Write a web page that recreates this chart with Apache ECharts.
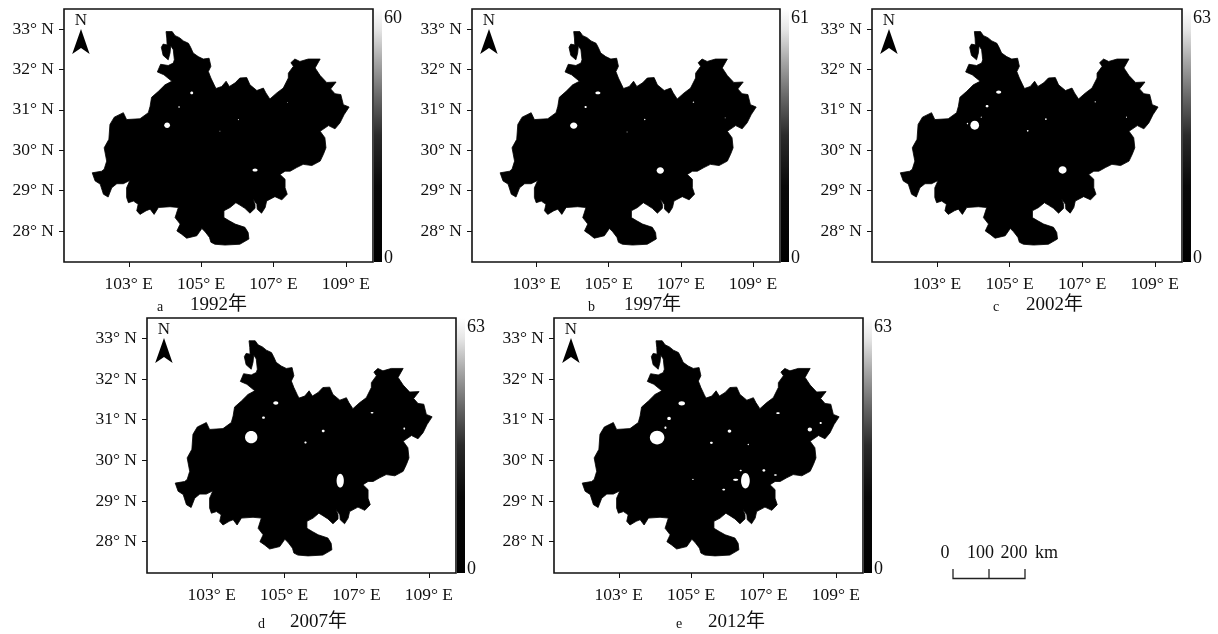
<!DOCTYPE html>
<html><head><meta charset="utf-8">
<style>html,body{margin:0;padding:0;background:#fff}#c{width:1218px;height:634px}</style>
<script src="https://cdn.jsdelivr.net/npm/echarts@6/dist/echarts.min.js"></script>
</head><body><div id="c"></div>
<script>
const lonTicks=[103,105,107,109];
const latTicks=[28,29,30,31,32,33];
const years=['1992','1997','2002','2007','2012'];
const letters=['a','b','c','d','e'];
const maxValues=[60,61,63,63,63];
const outlineLon=[104.03,104.20,104.28,104.40,104.51,104.65,104.71,104.78,104.92,105.06,105.22,105.27,105.20,105.27,105.36,105.41,105.57,105.69,105.78,105.94,106.07,106.26,106.35,106.54,106.72,106.79,106.90,107.09,107.27,107.41,107.41,107.55,107.48,107.59,107.73,107.96,108.29,108.15,108.29,108.47,108.73,108.58,108.70,108.86,108.93,109.09,108.95,108.84,108.70,108.52,108.29,108.42,108.45,108.38,108.29,108.06,107.82,107.64,107.46,107.32,107.18,107.32,107.32,107.38,107.23,107.04,106.81,106.77,106.67,106.55,106.54,106.43,106.49,106.49,106.35,106.21,106.07,105.96,105.80,105.63,105.63,105.78,105.94,106.21,106.30,106.32,106.07,105.66,105.38,105.27,105.23,105.11,105.02,104.88,104.60,104.46,104.33,104.42,104.28,104.37,104.14,103.82,103.70,103.59,103.48,103.31,103.22,103.26,103.13,102.99,102.94,102.94,103.03,102.85,102.67,102.53,102.43,102.30,102.21,102.07,101.99,102.25,102.32,102.39,102.32,102.45,102.48,102.60,102.85,102.94,103.31,103.54,103.59,103.63,103.82,104.00,104.19,103.97,103.79,103.88,104.09,104.23,104.26,104.23,104.16,104.14,104.09,103.95,103.90,103.95,104.06,104.05];
const outlineLat=[32.94,32.94,32.84,32.79,32.71,32.65,32.55,32.41,32.32,32.26,32.28,32.08,31.95,31.79,31.62,31.53,31.58,31.71,31.58,31.67,31.79,31.80,31.62,31.48,31.54,31.42,31.27,31.42,31.54,31.79,31.91,32.08,32.17,32.26,32.20,32.26,32.26,32.04,31.85,31.68,31.69,31.52,31.40,31.38,31.13,31.07,30.88,30.68,30.53,30.61,30.47,30.31,30.06,29.90,29.73,29.62,29.65,29.57,29.48,29.48,29.40,29.28,29.07,28.91,28.77,28.85,28.74,28.58,28.44,28.54,28.66,28.79,28.66,28.56,28.44,28.56,28.64,28.70,28.58,28.50,28.33,28.25,28.17,28.09,27.96,27.80,27.67,27.65,27.67,27.72,27.84,27.98,28.06,27.88,27.82,27.92,28.00,28.17,28.33,28.58,28.60,28.58,28.41,28.54,28.50,28.41,28.50,28.66,28.74,28.70,28.83,29.07,29.25,29.17,29.17,29.07,28.84,28.91,29.16,29.24,29.44,29.48,29.53,29.73,30.06,30.27,30.64,30.82,30.93,30.76,30.78,30.93,31.09,31.31,31.46,31.62,31.71,31.87,31.94,32.13,32.10,32.16,32.24,32.49,32.59,32.41,32.24,32.35,32.55,32.63,32.61,32.78];
// gaps in the raster: [lon, lat, half-width deg, half-height deg]
const gaps1992=[[104.06,30.62,.08,.07],[104.74,31.42,.04,.035],[104.39,31.07,.025,.02],[106.49,29.51,.07,.04],[106.03,30.76,.015,.015],[107.39,31.18,.012,.01],[105.52,30.47,.01,.01]];
const gaps1997=[[104.03,30.61,.1,.08],[104.70,31.42,.07,.035],[106.43,29.50,.1,.08],[104.36,31.07,.03,.025],[106.00,30.76,.02,.02],[107.35,31.19,.02,.015],[105.51,30.45,.015,.012],[108.23,30.80,.012,.01]];
const gaps2002=[[104.04,30.62,.12,.11],[104.70,31.44,.07,.04],[106.46,29.51,.11,.09],[104.38,31.09,.04,.03],[106.00,30.77,.025,.02],[107.36,31.20,.02,.015],[105.50,30.48,.025,.02],[103.84,30.66,.02,.02],[104.22,30.82,.015,.015],[108.22,30.82,.015,.015]];
const gaps2007=[[104.09,30.57,.17,.15],[106.55,29.50,.1,.17],[104.77,31.41,.07,.04],[104.43,31.05,.04,.03],[106.08,30.72,.04,.03],[105.59,30.44,.03,.025],[107.43,31.17,.04,.02],[108.32,30.78,.025,.03]];
const gaps2012=[[104.06,30.56,.2,.17],[104.74,31.40,.09,.05],[106.50,29.50,.12,.19],[104.39,31.03,.05,.04],[106.06,30.72,.05,.04],[105.56,30.43,.04,.03],[107.40,31.16,.05,.02],[108.28,30.76,.06,.05],[108.58,30.92,.03,.025],[106.23,29.52,.07,.025],[107.01,29.75,.04,.03],[105.90,29.28,.04,.02],[105.05,29.53,.02,.015],[106.58,30.39,.02,.02],[106.37,29.75,.03,.02],[104.29,30.80,.03,.03],[107.33,29.64,.04,.02]];
const allGaps=[gaps1992,gaps1997,gaps2002,gaps2007,gaps2012];

const SERIF='"Liberation Serif","Times New Roman",serif';
const frames=[
 {l:64,r:373,t:9,b:262,let:157,yr:190,cap:305},
 {l:472,r:780,t:9,b:262,let:588,yr:624,cap:305},
 {l:872,r:1182,t:9,b:262,let:993,yr:1026,cap:305},
 {l:147,r:456,t:318,b:573,let:258,yr:290,cap:622},
 {l:554,r:863,t:318,b:573,let:676,yr:708,cap:622}
];
const outline=outlineLon.map((x,i)=>[x,outlineLat[i]]);
const grid=[],xAxis=[],yAxis=[],series=[],graphic=[];
const ramp=[{offset:0,color:'#fff'},{offset:.08,color:'#e6e6e6'},{offset:.2,color:'#aaa'},{offset:.35,color:'#666'},{offset:.5,color:'#2a2a2a'},{offset:.7,color:'#080808'},{offset:1,color:'#000'}];
const tx=(text,x,y,size,align,vAlign)=>({type:'text',x,y,silent:true,style:{text,fill:'#111',font:size+'px '+SERIF,textAlign:align||'left',textVerticalAlign:vAlign||'middle'}});
frames.forEach((f,i)=>{
  grid.push({left:f.l,top:f.t,width:f.r-f.l,height:f.b-f.t,show:true,borderColor:'#111',borderWidth:1.6,backgroundColor:'#fff'});
  xAxis.push({type:'value',gridIndex:i,min:101.21,max:109.75,splitLine:{show:false},
    axisLine:{show:false},axisTick:{length:5,customValues:lonTicks,lineStyle:{color:'#111',width:1}},
    axisLabel:{customValues:lonTicks,margin:13,color:'#111',fontFamily:SERIF,fontSize:17.5,formatter:v=>v+'° E'}});
  yAxis.push({type:'value',gridIndex:i,min:27.23,max:33.5,splitLine:{show:false},
    axisLine:{show:false},axisTick:{length:5,customValues:latTicks,lineStyle:{color:'#111',width:1}},
    axisLabel:{customValues:latTicks,margin:10,color:'#111',fontFamily:SERIF,fontSize:17.5,formatter:v=>v+'° N'}});
  series.push({type:'custom',xAxisIndex:i,yAxisIndex:i,silent:true,clip:true,data:outline,
    renderItem:(p,api)=>p.dataIndex===0?{type:'polygon',shape:{points:outline.map(q=>api.coord(q))},style:{fill:'#000',stroke:'#000',lineWidth:.8}}:null});
  series.push({type:'custom',xAxisIndex:i,yAxisIndex:i,silent:true,z:3,data:allGaps[i],encode:{x:0,y:1},
    renderItem:(p,api)=>{const c=api.coord([api.value(0),api.value(1)]);const s=api.size([api.value(2),api.value(3)]);
      return {type:'ellipse',shape:{cx:c[0],cy:c[1],rx:s[0],ry:s[1]},style:{fill:'#fff'}};}});
  // colour ramp
  graphic.push({type:'rect',silent:true,shape:{x:f.r+1,y:f.t,width:8,height:f.b-f.t},
    style:{fill:new echarts.graphic.LinearGradient(0,0,0,1,ramp)}});
  graphic.push(tx(String(maxValues[i]),f.r+11,f.t+9,18));
  graphic.push(tx('0',f.r+11,f.b-4,18));
  // north arrow
  const ax=f.l+17,ay=f.t+20;
  graphic.push({type:'polygon',silent:true,shape:{points:[[ax,ay],[ax+8.6,ay+25],[ax,ay+19],[ax-8.8,ay+25]]},style:{fill:'#000'}});
  graphic.push(tx('N',ax,f.t+12,17,'center'));
  // caption
  graphic.push(tx(letters[i],f.let,f.cap+2,14));
  graphic.push({type:'text',x:f.yr,y:f.cap,silent:true,style:{text:years[i]+'年',fill:'#111',font:'19px '+SERIF+',"Noto Sans CJK SC"',textVerticalAlign:'middle'}});
});
// scale bar
['0','100','200'].forEach((s,i)=>graphic.push(tx(s,[945,980.5,1014][i],553,18,'center')));
graphic.push(tx('km',1035,553,18));
graphic.push({type:'polyline',silent:true,shape:{points:[[953,569],[953,578.5],[1025,578.5],[1025,569]]},style:{stroke:'#222',fill:null,lineWidth:1.3}});
graphic.push({type:'line',silent:true,shape:{x1:989,y1:569,x2:989,y2:578.5},style:{stroke:'#222',lineWidth:1.3}});

const chart=echarts.init(document.getElementById('c'),null,{renderer:'canvas'});
chart.setOption({animation:false,backgroundColor:'#fff',grid,xAxis,yAxis,series,graphic:{elements:graphic}});
</script></body></html>
